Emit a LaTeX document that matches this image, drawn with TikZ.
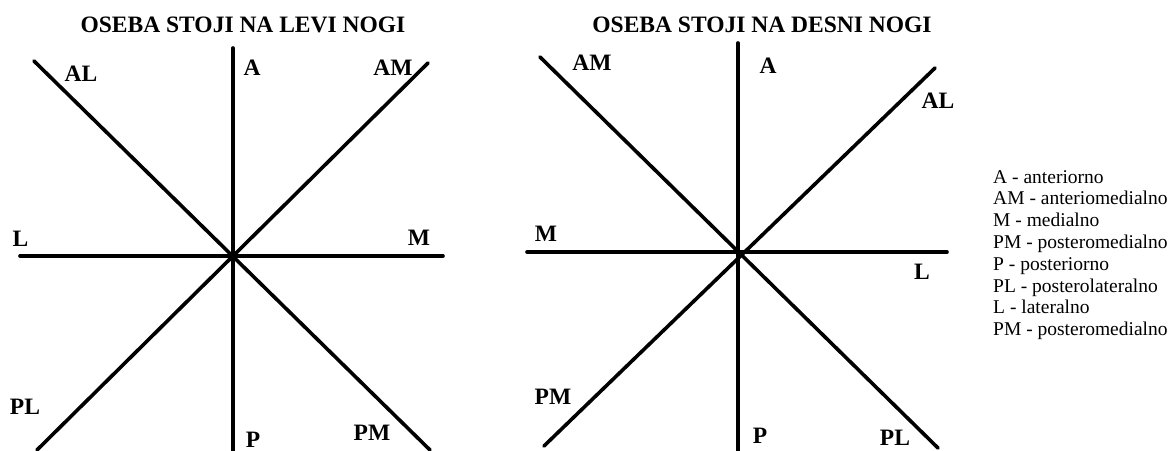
\documentclass[tikz,border=0pt]{standalone}
\usepackage{fontspec}
\setmainfont{Liberation Serif}
\begin{document}
\begin{tikzpicture}[x=1pt,y=-1pt,
  axis/.style={line width=3.6pt,line cap=round,black},
  dirlabel/.style={font=\fontsize{23.5}{26}\selectfont\bfseries,inner sep=0pt,anchor=base},
  heading/.style={font=\fontsize{23.5}{26}\selectfont\bfseries,inner sep=0pt,anchor=base},
  legend/.style={font=\fontsize{19.5}{21.8}\selectfont,inner sep=0pt,anchor=base west}]
\useasboundingbox (0,0) rectangle (1172,450);

% ---------- left foot ----------
\node[heading] (tl) at (243,32) {OSEBA STOJI NA LEVI NOGI};
\coordinate (lA) at (233,48);
\coordinate (lP) at (233,452);
\coordinate (lL) at (20,256);
\coordinate (lM) at (443,256);
\coordinate (lAL) at (34,61);
\coordinate (lPM) at (430,450);
\coordinate (lAM) at (428,63);
\coordinate (lPL) at (37,450);
\draw[axis] (lA) -- (lP);
\draw[axis] (lL) -- (lM);
\draw[axis] (lAL) -- (lPM);
\draw[axis] (lAM) -- (lPL);
\node[dirlabel] (nlAL) at (81,81.5) {AL};
\node[dirlabel] (nlA) at (252,75.5) {A};
\node[dirlabel] (nlAM) at (393,75.5) {AM};
\node[dirlabel] (nlL) at (20.5,246) {L};
\node[dirlabel] (nlM) at (419,245) {M};
\node[dirlabel] (nlPL) at (25,414) {PL};
\node[dirlabel] (nlP) at (253,447) {P};
\node[dirlabel] (nlPM) at (372,440) {PM};

% ---------- right foot ----------
\node[heading] (tr) at (762,32) {OSEBA STOJI NA DESNI NOGI};
\coordinate (rA) at (738,43);
\coordinate (rP) at (738,452);
\coordinate (rM) at (527,252);
\coordinate (rL) at (947,252);
\coordinate (rAM) at (540,57);
\coordinate (rPL) at (938,448);
\coordinate (rAL) at (935,68);
\coordinate (rPM) at (544,446);
\draw[axis] (rA) -- (rP);
\draw[axis] (rM) -- (rL);
\draw[axis] (rAM) -- (rPL);
\draw[axis] (rAL) -- (rPM);
\node[dirlabel] (nrAM) at (592,70) {AM};
\node[dirlabel] (nrA) at (768,73.5) {A};
\node[dirlabel] (nrAL) at (938,108.5) {AL};
\node[dirlabel] (nrM) at (546,241) {M};
\node[dirlabel] (nrL) at (922,279) {L};
\node[dirlabel] (nrPM) at (553,404) {PM};
\node[dirlabel] (nrP) at (760,443) {P};
\node[dirlabel] (nrPL) at (895,445) {PL};

% ---------- key ----------
\node[legend] (k1) at (993,183.0) {A - anteriorno};
\node[legend] (k2) at (993,204.8) {AM - anteriomedialno};
\node[legend] (k3) at (993,226.6) {M - medialno};
\node[legend] (k4) at (993,248.4) {PM - posteromedialno};
\node[legend] (k5) at (993,270.2) {P - posteriorno};
\node[legend] (k6) at (993,292.0) {PL - posterolateralno};
\node[legend] (k7) at (993,313.8) {L - lateralno};
\node[legend] (k8) at (993,335.6) {PM - posteromedialno};
\end{tikzpicture}
\end{document}
